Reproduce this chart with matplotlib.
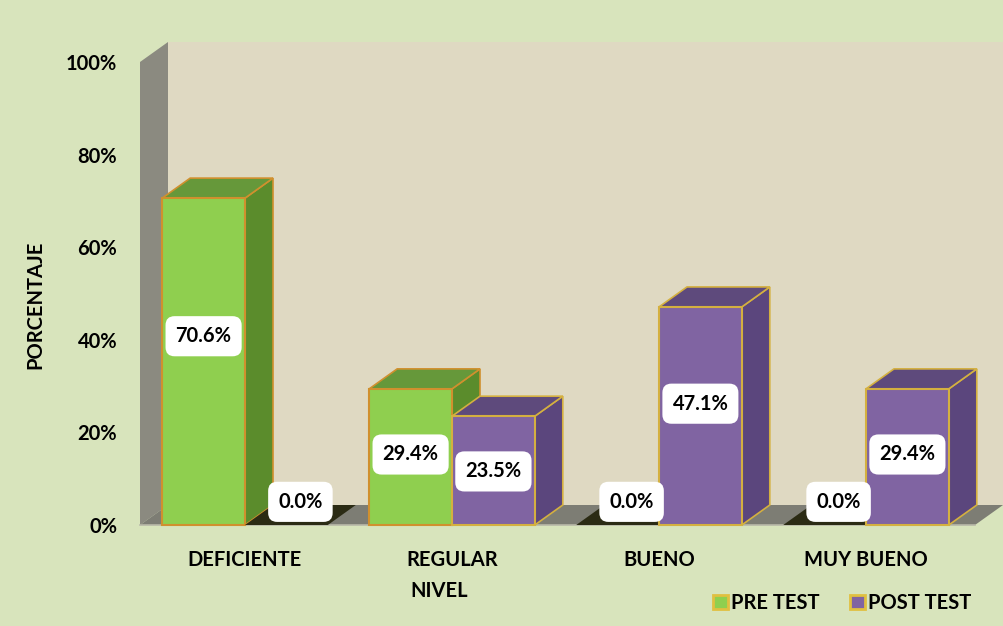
import matplotlib
matplotlib.use("Agg")
import matplotlib.pyplot as plt
from matplotlib.patches import Polygon, Patch
import numpy as np

plt.rcParams['font.family'] = ['Lato', 'DejaVu Sans']
plt.rcParams['font.weight'] = 'bold'

# data
niveles = ["DEFICIENTE", "REGULAR", "BUENO", "MUY BUENO"]
pre_test = [70.6, 29.4, 0.0, 0.0]
post_test = [0.0, 23.5, 47.1, 29.4]
y_ticks = [0, 20, 40, 60, 80, 100]

# colours (front, side, top, edge)
green = ("#8fcf4f", "#5b8c2c", "#66983a", "#d0902e")
purple = ("#8064a2", "#5b467d", "#5e4a7c", "#d4b040")
bg = "#d8e4bc"
wall = "#dfd9c2"
fs = 14.5

W, H = 1004, 626
fig = plt.figure(figsize=(W / 100, H / 100), dpi=100, facecolor=bg)
# front plane of the 3D chart in pixels
px0, px1, py0, py1 = 140, 975, 525, 62
ax = fig.add_axes([px0 / W, 1 - py0 / H, (px1 - px0) / W, (py0 - py1) / H])
ax.set_facecolor("none")

step = 207.0  # pixels per category
xlim = (-(245 - px0) / step, (px1 - 245) / step)
ax.set_xlim(*xlim)
ax.set_ylim(0, 100)

dx = 28 / step               # depth in x (data units)
dy = 20 / ((py0 - py1) / 100)  # depth in y (data units)
bw = 0.4

def poly(pts, fc, ec="none", lw=0, z=1):
    ax.add_patch(Polygon(pts, closed=True, facecolor=fc, edgecolor=ec,
                         linewidth=lw, zorder=z, clip_on=False))

# back wall
poly([(xlim[0] + dx, dy), (xlim[1] + dx + 0.02, dy), (xlim[1] + dx + 0.02, 100 + dy),
      (xlim[0] + dx, 100 + dy)], wall, z=0)
# left side wall
poly([(xlim[0], 0), (xlim[0] + dx, dy), (xlim[0] + dx, 100 + dy), (xlim[0], 100)],
     "#8b8a80", z=0.5)
# floor
poly([(xlim[0], 0), (xlim[1], 0), (xlim[1] + dx, dy), (xlim[0] + dx, dy)],
     "#7d7d74", z=0.6)
ax.plot([xlim[0], xlim[1]], [0, 0], color="#b8b8a8", lw=1.2, zorder=0.7, clip_on=False)

def bar3d(x0, h, col, z):
    x1 = x0 + bw
    front, side, top, edge = col
    if h <= 0:
        poly([(x0, 0), (x1, 0), (x1 + dx, dy), (x0 + dx, dy)], "#2b2b14", z=z)
        return
    poly([(x1, 0), (x1 + dx, dy), (x1 + dx, h + dy), (x1, h)], side, edge, 1.2, z)
    poly([(x0, h), (x1, h), (x1 + dx, h + dy), (x0 + dx, h + dy)], top, edge, 1.2, z)
    poly([(x0, 0), (x1, 0), (x1, h), (x0, h)], front, edge, 1.5, z)

xs = np.arange(len(niveles))
labels = []
for i in xs:
    bar3d(i - bw, pre_test[i], green, 2 + i)
    bar3d(i, post_test[i], purple, 2.5 + i)
    labels.append((i - bw / 2, pre_test[i]))
    labels.append((i + bw / 2, post_test[i]))

for xc, v in labels:
    if v > 0:
        ty = v * 0.62 - 3
        tx = xc
    else:
        ty = 5
        tx = xc + dx / 2
    ax.text(tx, ty, f"{v:.1f}%", ha="center", va="center", fontsize=fs,
            fontweight="bold", color="black", zorder=20,
            bbox=dict(boxstyle="round,pad=0.5,rounding_size=0.45", fc="white", ec="none"))

ax.set_yticks(y_ticks)
ax.set_yticklabels([f"{t}%" for t in y_ticks], fontsize=fs, fontweight="bold")
ax.set_xticks(xs)
ax.set_xticklabels(niveles, fontsize=fs, fontweight="bold")
ax.tick_params(axis="y", length=0, pad=16.5)
ax.tick_params(axis="x", length=0, pad=18)
for s in ax.spines.values():
    s.set_visible(False)

fig.text(439 / W, 1 - 591 / H, "NIVEL", ha="center", va="center",
         fontsize=fs, fontweight="bold")
fig.text(35 / W, 1 - 305 / H, "PORCENTAJE", ha="center", va="center",
         rotation=90, fontsize=fs, fontweight="bold")

handles = [Patch(facecolor=green[0], edgecolor="#e0c040", linewidth=2, label="PRE TEST"),
           Patch(facecolor=purple[0], edgecolor="#e0c040", linewidth=2, label="POST TEST")]
fig.legend(handles=handles, loc="center", bbox_to_anchor=(842 / W, 1 - 603 / H),
           ncol=2, frameon=False, handlelength=0.75, handleheight=0.75,
           handletextpad=0.15, columnspacing=1.5, prop={"size": fs, "weight": "bold"})

fig.savefig("out.png", dpi=100, facecolor=bg)
